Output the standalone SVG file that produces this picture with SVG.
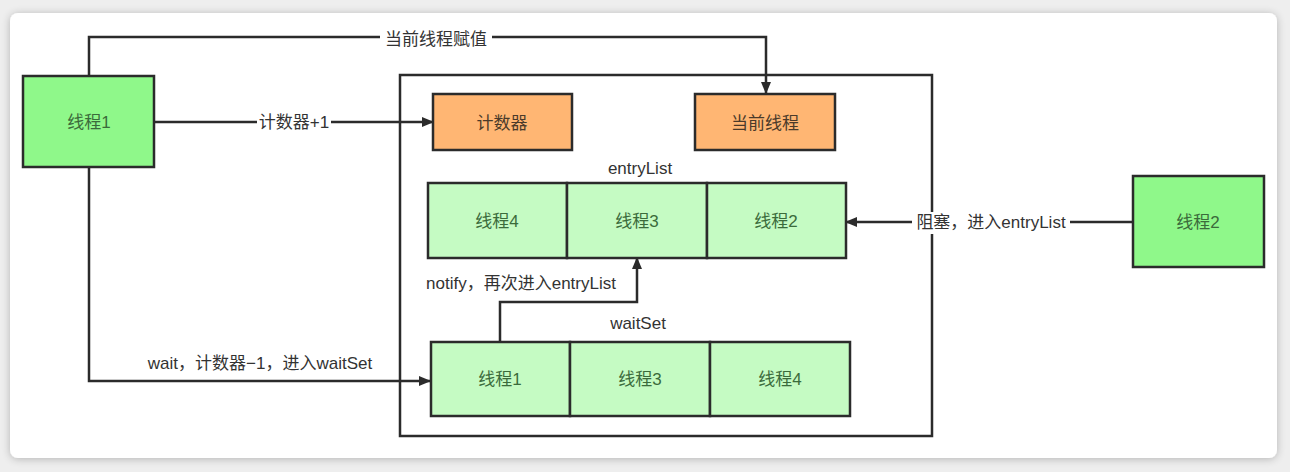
<svg xmlns="http://www.w3.org/2000/svg" width="1290" height="472" viewBox="0 0 1290 472">
<style>
text{font-family:"Liberation Sans","Noto Sans CJK SC",sans-serif;font-size:17px;text-anchor:middle;dominant-baseline:central;fill:#333}
.box{stroke:#2b2b2b;stroke-width:2.5}
.thread{fill:#8ff88a}
.cell{fill:#c5fbc3}
.org{fill:#ffb673}
.gt{fill:#3b6b3b}
.ot{fill:#4a3a2a}
.ln{fill:none;stroke:#2b2b2b;stroke-width:2.5}
.lbg{fill:#fff}
</style>
<defs>
<marker id="arr" viewBox="0 0 12 10" refX="11" refY="5" markerWidth="12" markerHeight="10" markerUnits="userSpaceOnUse" orient="auto">
<path d="M0,0 L12,5 L0,10 z" fill="#2b2b2b"/>
</marker>
<filter id="sh" x="-5%" y="-10%" width="110%" height="120%">
<feGaussianBlur in="SourceAlpha" stdDeviation="4"/>
<feOffset dy="1"/>
<feComponentTransfer><feFuncA type="linear" slope="0.25"/></feComponentTransfer>
<feMerge><feMergeNode/><feMergeNode in="SourceGraphic"/></feMerge>
</filter>
</defs>
<rect x="0" y="0" width="1290" height="472" fill="#eeeeee"/>
<rect x="10" y="13" width="1267" height="445" rx="8" fill="#ffffff" filter="url(#sh)"/>

<g id="container">
<rect x="400" y="75" width="532" height="361" fill="#ffffff" class="box"/>
</g>

<g id="connectors">
<path class="ln" d="M89,76 V37 H766 V93" marker-end="url(#arr)"/>
<path class="ln" d="M154,122 H433" marker-end="url(#arr)"/>
<path class="ln" d="M1133,222 H846" marker-end="url(#arr)"/>
<path class="ln" d="M89,167 V381 H430" marker-end="url(#arr)"/>
<path class="ln" d="M500,342 V302 H637 V258" marker-end="url(#arr)"/>
</g>

<g id="labels">
<rect class="lbg" x="380" y="28" width="112" height="20"/>
<text x="436" y="39">当前线程赋值</text>
<rect class="lbg" x="257" y="112" width="74" height="20"/>
<text x="294" y="122">计数器+1</text>
<rect class="lbg" x="912" y="212" width="158" height="22"/>
<text x="991" y="222">阻塞，进入entryList</text>
<text x="260" y="363">wait，计数器−1，进入waitSet</text>
<text x="521" y="283">notify，再次进入entryList</text>
<text x="640" y="168">entryList</text>
<text x="638" y="323">waitSet</text>
</g>

<g id="thread1">
<rect x="23" y="76" width="131" height="91" class="box thread"/>
<text x="89" y="122" class="gt">线程1</text>
</g>
<g id="thread2">
<rect x="1133" y="176" width="131" height="91" class="box thread"/>
<text x="1198" y="222" class="gt">线程2</text>
</g>
<g id="counter">
<rect x="433" y="94" width="139" height="56" class="box org"/>
<text x="502" y="123" class="ot">计数器</text>
</g>
<g id="currentThread">
<rect x="695" y="94" width="140" height="56" class="box org"/>
<text x="765" y="123" class="ot">当前线程</text>
</g>
<g id="entryList">
<rect x="428" y="183" width="139" height="75" class="box cell"/>
<text x="497" y="221" class="gt">线程4</text>
<rect x="567" y="183" width="140" height="75" class="box cell"/>
<text x="637" y="221" class="gt">线程3</text>
<rect x="707" y="183" width="139" height="75" class="box cell"/>
<text x="776" y="221" class="gt">线程2</text>
</g>
<g id="waitSet">
<rect x="431" y="342" width="139" height="74" class="box cell"/>
<text x="500" y="379" class="gt">线程1</text>
<rect x="570" y="342" width="140" height="74" class="box cell"/>
<text x="640" y="379" class="gt">线程3</text>
<rect x="710" y="342" width="140" height="74" class="box cell"/>
<text x="780" y="379" class="gt">线程4</text>
</g>
</svg>
